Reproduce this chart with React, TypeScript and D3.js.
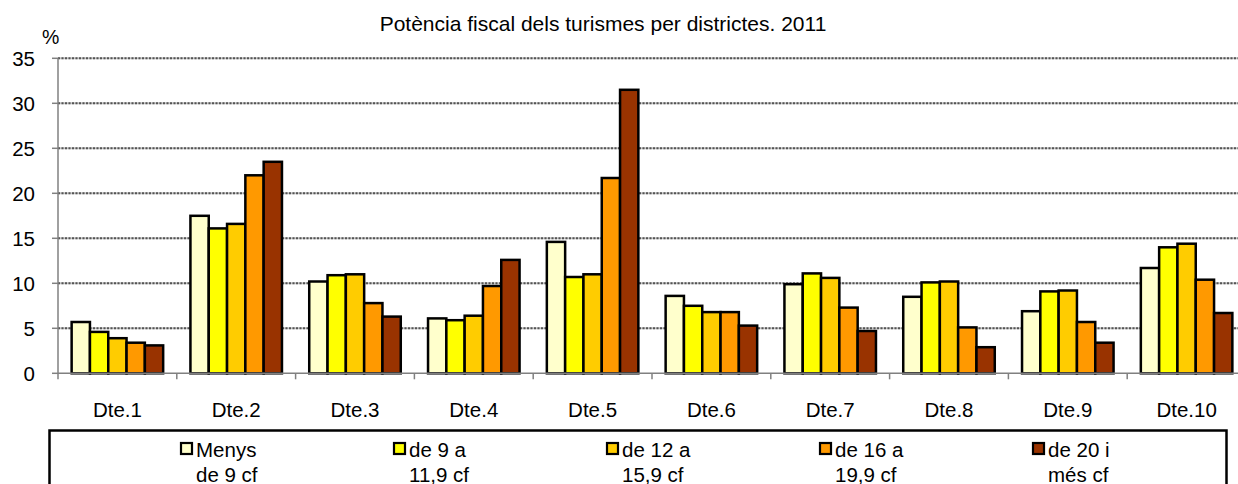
import * as d3 from "d3";

const districts = ["Dte.1", "Dte.2", "Dte.3", "Dte.4", "Dte.5", "Dte.6", "Dte.7", "Dte.8", "Dte.9", "Dte.10"];

const menys9 = [5.7, 17.5, 10.2, 6.1, 14.6, 8.6, 9.9, 8.5, 6.9, 11.7];
const de9a11 = [4.6, 16.1, 10.9, 5.9, 10.7, 7.5, 11.1, 10.1, 9.1, 14.0];
const de12a15 = [3.9, 16.6, 11.0, 6.4, 11.0, 6.8, 10.6, 10.2, 9.2, 14.4];
const de16a19 = [3.4, 22.0, 7.8, 9.7, 21.7, 6.8, 7.3, 5.1, 5.7, 10.4];
const de20mes = [3.1, 23.5, 6.3, 12.6, 31.5, 5.3, 4.7, 2.9, 3.4, 6.7];

const seriesLabels = [
  ["Menys", "de 9 cf"],
  ["de 9 a", "11,9 cf"],
  ["de 12 a", "15,9 cf"],
  ["de 16 a", "19,9 cf"],
  ["de 20 i", "més cf"],
];
const seriesColors = ["#FFFFCC", "#FFFF00", "#FFCC00", "#FF9900", "#993300"];
const yTicks = [0, 5, 10, 15, 20, 25, 30, 35];

const series = [menys9, de9a11, de12a15, de16a19, de20mes];

const width = 1238;
const height = 484;
const plot = { left: 58, right: 1246, top: 58.3, bottom: 373.3 };
const font = "'Liberation Sans', Arial, sans-serif";

export default function App() {
  const x = d3.scaleBand<string>().domain(districts).range([plot.left, plot.right]).padding(0);
  const inner = d3
    .scaleBand<number>()
    .domain(series.map((_, i) => i))
    .range([0, x.bandwidth()])
    .paddingInner(0)
    .paddingOuter(0.745);
  const y = d3.scaleLinear().domain([0, 35]).range([plot.bottom, plot.top]);
  const legendX = d3.scaleLinear().domain([0, 4]).range([180, 1032]);

  return (
    <svg width={width} height={height} style={{ position: "absolute", left: 0, top: 0, background: "#fff" }} fontFamily={font}>
      <text x={603} y={30.5} textAnchor="middle" fontSize={21} fill="#000">
        Potència fiscal dels turismes per districtes. 2011
      </text>
      <text x={42} y={44} fontSize={19.5} fill="#000">%</text>

      {yTicks.map((t) => (
        <g key={`y-${t}`}>
          {t > 0 ? (
            <>
              <line x1={plot.left} x2={width} y1={y(t)} y2={y(t)} stroke="#c4c4c4" strokeWidth={2} />
              <line x1={plot.left} x2={width} y1={y(t)} y2={y(t)} stroke="#555" strokeWidth={2} strokeDasharray="2 1.5" />
            </>
          ) : null}
          <line x1={plot.left - 6} x2={plot.left} y1={y(t)} y2={y(t)} stroke="#808080" strokeWidth={1.5} />
          <text x={35} y={y(t)} dy="0.36em" textAnchor="end" fontSize={20.5} fill="#000">{t}</text>
        </g>
      ))}

      {districts.map((d, di) => (
        <g key={d} transform={`translate(${x(d)}, 0)`}>
          {series.map((values, si) => (
            <rect
              key={si}
              x={inner(si)}
              y={y(values[di])}
              width={inner.bandwidth()}
              height={y(0) - y(values[di])}
              fill={seriesColors[si]}
              stroke="#000"
              strokeWidth={2.5}
            />
          ))}
          <text x={x.bandwidth() / 2} y={416.5} textAnchor="middle" fontSize={20.5} fill="#000">{d}</text>
        </g>
      ))}

      <line x1={plot.left} x2={plot.left} y1={plot.top} y2={plot.bottom} stroke="#808080" strokeWidth={1.5} />
      <line x1={plot.left} x2={width} y1={plot.bottom} y2={plot.bottom} stroke="#808080" strokeWidth={1.5} />
      {[...districts.map((d) => x(d) as number), plot.right].map((bx, i) => (
        <line key={`xt-${i}`} x1={bx} x2={bx} y1={plot.bottom} y2={plot.bottom + 6} stroke="#808080" strokeWidth={1.5} />
      ))}

      <rect x={49.5} y={430.5} width={1177} height={80} fill="#fff" stroke="#000" strokeWidth={2.5} />
      {seriesLabels.map((lines, i) => (
        <g key={`lg-${i}`} transform={`translate(${legendX(i)}, 0)`}>
          <rect x={1} y={443} width={11} height={11} fill={seriesColors[i]} stroke="#000" strokeWidth={2.2} />
          <text x={16} y={456.5} fontSize={20.5} fill="#000">{lines[0]}</text>
          <text x={16} y={481.5} fontSize={20.5} fill="#000">{lines[1]}</text>
        </g>
      ))}
    </svg>
  );
}
